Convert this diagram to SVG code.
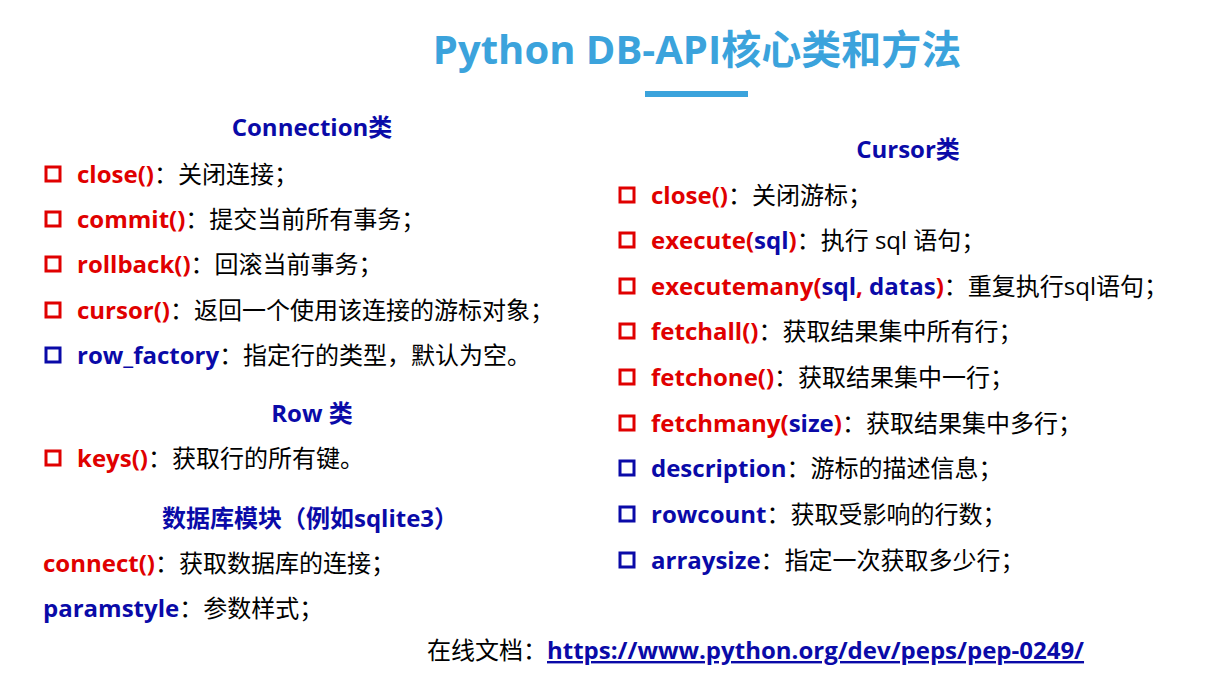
<svg xmlns="http://www.w3.org/2000/svg" width="1231" height="678" viewBox="0 0 1231 678">
<style>
text{font-family:"Open Sans","Noto Sans CJK SC",sans-serif;font-size:24px;fill:#000}
.r{fill:#e00000;font-weight:bold}
.b{fill:#0a0aa8;font-weight:bold}
.h{fill:#0a0aa8;font-weight:bold;text-anchor:middle}
.sr{fill:none;stroke:#e00000;stroke-width:3}
.sb{fill:none;stroke:#0a0aa8;stroke-width:3}
</style>
<rect width="1231" height="678" fill="#fff"/>
<g id="title">
<text x="697" y="64" text-anchor="middle" style="font-size:40px;font-weight:bold;fill:#3ba3dc">Python DB-API核心类和方法</text>
<rect x="645" y="91" width="103" height="6" fill="#3ba3dc"/>
</g>
<g id="left">
<text class="h" x="312" y="136">Connection类</text>
<rect class="sr" x="46" y="167" width="14" height="14"/><text x="77" y="183"><tspan class="r">close()</tspan>：关闭连接；</text>
<rect class="sr" x="46" y="212" width="14" height="14"/><text x="77" y="228"><tspan class="r">commit()</tspan>：提交当前所有事务；</text>
<rect class="sr" x="46" y="257" width="14" height="14"/><text x="77" y="273"><tspan class="r">rollback()</tspan>：回滚当前事务；</text>
<rect class="sr" x="46" y="303" width="14" height="14"/><text x="77" y="319"><tspan class="r">cursor()</tspan>：返回一个使用该连接的游标对象；</text>
<rect class="sb" x="46" y="348" width="14" height="14"/><text x="77" y="364"><tspan class="b">row_factory</tspan>：指定行的类型，默认为空。</text>
<text class="h" x="312" y="422">Row 类</text>
<rect class="sr" x="46" y="451" width="14" height="14"/><text x="77" y="467"><tspan class="r">keys()</tspan>：获取行的所有键。</text>
<text class="h" x="310" y="527">数据库模块（例如sqlite3）</text>
<text x="43" y="572"><tspan class="r">connect()</tspan>：获取数据库的连接；</text>
<text x="43" y="617"><tspan class="b">paramstyle</tspan>：参数样式；</text>
</g>
<g id="right">
<text class="h" x="908" y="158">Cursor类</text>
<rect class="sr" x="620" y="188" width="14" height="14"/><text x="651" y="204"><tspan class="r">close()</tspan>：关闭游标；</text>
<rect class="sr" x="620" y="233" width="14" height="14"/><text x="651" y="249"><tspan class="r">execute(</tspan><tspan class="b">sql</tspan><tspan class="r">)</tspan>：执行 sql 语句；</text>
<rect class="sr" x="620" y="279" width="14" height="14"/><text x="651" y="295"><tspan class="r">executemany(</tspan><tspan class="b">sql</tspan><tspan class="r">, </tspan><tspan class="b">datas</tspan><tspan class="r">)</tspan>：重复执行sql语句；</text>
<rect class="sr" x="620" y="324" width="14" height="14"/><text x="651" y="340"><tspan class="r">fetchall()</tspan>：获取结果集中所有行；</text>
<rect class="sr" x="620" y="370" width="14" height="14"/><text x="651" y="386"><tspan class="r">fetchone()</tspan>：获取结果集中一行；</text>
<rect class="sr" x="620" y="416" width="14" height="14"/><text x="651" y="432"><tspan class="r">fetchmany(</tspan><tspan class="b">size</tspan><tspan class="r">)</tspan>：获取结果集中多行；</text>
<rect class="sb" x="620" y="461" width="14" height="14"/><text x="651" y="477"><tspan class="b">description</tspan>：游标的描述信息；</text>
<rect class="sb" x="620" y="507" width="14" height="14"/><text x="651" y="523"><tspan class="b">rowcount</tspan>：获取受影响的行数；</text>
<rect class="sb" x="620" y="553" width="14" height="14"/><text x="651" y="569"><tspan class="b">arraysize</tspan>：指定一次获取多少行；</text>
</g>
<g id="footer">
<text x="427" y="659">在线文档：<tspan class="b" text-decoration="underline">https://www.python.org/dev/peps/pep-0249/</tspan></text>
</g>
</svg>
